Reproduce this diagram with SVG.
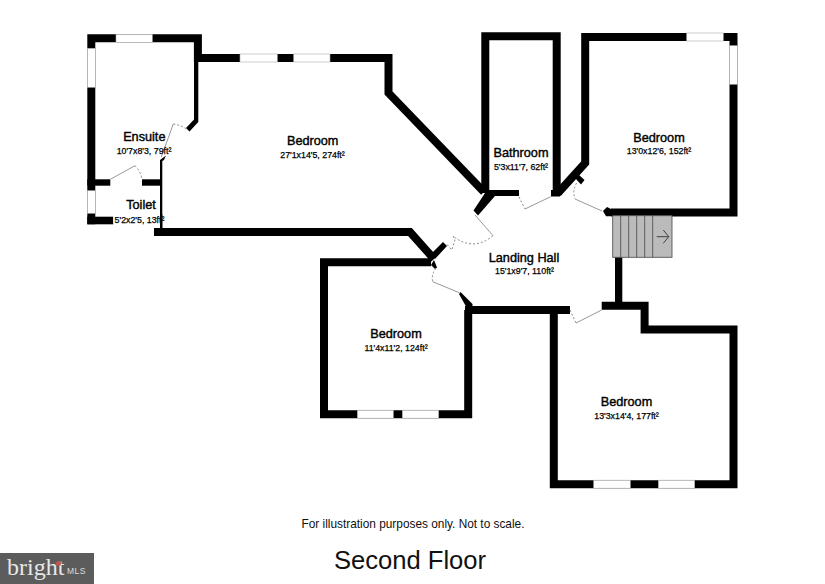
<svg xmlns="http://www.w3.org/2000/svg" width="825" height="584" viewBox="0 0 825 584">
<style>
.w{fill:none;stroke:#000;stroke-width:8;stroke-linejoin:miter}
.b{fill:#000}
.win{fill:#fff;stroke:#aaa;stroke-width:.6}
.door{fill:none;stroke:#999;stroke-width:1}
.arc{fill:none;stroke:#888;stroke-width:1;stroke-dasharray:2 2}
.n{font-family:"Liberation Sans",Arial,sans-serif;font-size:12.7px;text-anchor:middle;fill:#000;stroke:#000;stroke-width:.4}
.d{font-family:"Liberation Sans",Arial,sans-serif;font-size:8.8px;text-anchor:middle;fill:#000;stroke:#000;stroke-width:.25}
</style>
<rect width="825" height="584" fill="#fff"/>
<g id="walls">
<path class="w" d="M91.300 224.300V38.300H197.900V58H388.500V93L484 192"/>
<path class="b" d="M194 60H198.300V122L189.500 131.500L186 128L194 119.500Z"/>
<rect class="b" x="87.300" y="179.300" width="23" height="6.400"/>
<rect class="b" x="142" y="179.300" width="19" height="6.400"/>
<rect class="b" x="87.300" y="216.700" width="26" height="7.600"/>
<path class="b" d="M160 160L166 155.500L164 160L162.300 161V228H160Z"/>
<path class="w" d="M154 232H410L434 259"/>
<path class="b" d="M431 254L443 242L447 246L435 259Z"/>
<path class="w" d="M485.300 193V36.300H556.700V196"/>
<rect class="b" x="485" y="190" width="34" height="6"/>
<path class="b" d="M487 190L495 196L478 215.500L473.500 210.500Z"/>
<rect class="b" x="551" y="190" width="9" height="6.500"/>
<path class="w" d="M611 212.600H733.500V37H585.200V163L558 193"/>
<path class="b" d="M575 178L578.500 174.500L584.500 180L581 184.500Z"/>
<path class="b" d="M603 211L607 207L611 209V216.300H606Z"/>
<path class="w" d="M431 262.200H324V414.200H468.200V310"/>
<path class="b" d="M459 294L460.500 292L472.500 304V310H468Z"/>
<path class="b" d="M431 265L434 260L437 267.500L435 269Z"/>
<path class="w" d="M465 310H570"/>
<path class="w" d="M553.800 306V484.200H733.500V329.500H644.600V305.800H601.700"/>
<rect class="b" x="615" y="257" width="7.300" height="46"/>
</g>
<g id="windows">
<rect class="win" x="116" y="34.300" width="36.300" height="8"/>
<rect class="win" x="87.300" y="48.300" width="8" height="39"/>
<rect class="win" x="87.300" y="190.700" width="8" height="22.600"/>
<rect class="win" x="240" y="54" width="37.300" height="8"/>
<rect class="win" x="293.700" y="54" width="36.300" height="8"/>
<rect class="win" x="686.700" y="33" width="36.600" height="8"/>
<rect class="win" x="729.500" y="45.700" width="8" height="38.600"/>
<rect class="win" x="357.300" y="410.200" width="36" height="8"/>
<rect class="win" x="402.300" y="410.200" width="36.400" height="8"/>
<rect class="win" x="593.700" y="480.200" width="36.600" height="8"/>
<rect class="win" x="658.300" y="480.200" width="36.400" height="8"/>
<rect x="113.300" y="214" width="47" height="11" rx="3" fill="#fff"/>
<rect class="b" x="160" y="214" width="2.300" height="14"/>
</g>
<g id="doors">
<path class="door" d="M110.300 179.300L135 165.700"/><path class="arc" d="M135 165.700Q140 170 142 179"/>
<path class="door" d="M161.300 157L173.300 124"/><path class="arc" d="M173.300 124Q181 125 188 130"/>
<path class="door" d="M475 215L493 235.700"/><path class="arc" d="M493 235.700Q473 252 453 236L455 240L451.700 250L446.700 244"/>
<path class="door" d="M525 209L550.700 196.700"/><path class="arc" d="M519 197L525 209"/>
<path class="door" d="M575 199L602 211"/><path class="arc" d="M576.700 183Q572 190 575 199"/>
<path class="door" d="M432.700 281.700L459.300 292.700"/><path class="arc" d="M436 268Q431 275 432.700 281.700"/>
<path class="door" d="M576 323L601.700 310"/><path class="arc" d="M570 310L576 323"/>
</g>
<g id="stairs" fill="none" stroke="#555" stroke-width=".9">
<rect x="612.700" y="215.700" width="59.300" height="41.600" fill="#bbb"/>
<path d="M620.700 215.700V257.300M628.700 215.700V257.300M636.700 215.700V257.300M644.700 215.700V257.300M652.700 215.700V257.300"/>
<path stroke="#333" d="M656.700 236.700H668.700M663.300 230L668.700 236.700L663.300 243.300"/>
</g>
<g id="labels">
<text class="n" x="144.300" y="141">Ensuite</text><text class="d" x="144" y="153.500">10'7x8'3, 79ft²</text>
<text class="n" x="141" y="209">Toilet</text><text class="d" x="139.500" y="222.500">5'2x2'5, 13ft²</text>
<text class="n" x="312.700" y="145">Bedroom</text><text class="d" x="312.500" y="157.500">27'1x14'5, 274ft²</text>
<text class="n" x="521" y="157">Bathroom</text><text class="d" x="521" y="169.500">5'3x11'7, 62ft²</text>
<text class="n" x="659" y="141.500">Bedroom</text><text class="d" x="659" y="154">13'0x12'6, 152ft²</text>
<text class="n" x="524" y="262">Landing Hall</text><text class="d" x="524.500" y="274">15'1x9'7, 110ft²</text>
<text class="n" x="396" y="338">Bedroom</text><text class="d" x="396" y="350.500">11'4x11'2, 124ft²</text>
<text class="n" x="626.500" y="406">Bedroom</text><text class="d" x="626.500" y="419">13'3x14'4, 177ft²</text>
<text x="413" y="528" font-family="Liberation Sans,Arial,sans-serif" font-size="11.850" text-anchor="middle" fill="#111">For illustration purposes only. Not to scale.</text>
<text x="410" y="568.500" font-family="Liberation Sans,Arial,sans-serif" font-size="25.600" text-anchor="middle" fill="#111">Second Floor</text>
</g>
<g id="logo">
<rect x="0" y="553" width="94" height="31" fill="#5c5c5c"/>
<text x="7" y="575" font-family="Liberation Serif,serif" font-size="24" fill="#e8e8e8">bright</text>
<circle cx="58.500" cy="563.500" r="2.500" fill="#c0584a"/>
<text x="67" y="574" font-family="Liberation Sans,Arial,sans-serif" font-size="8.500" letter-spacing=".5" fill="#ddd">MLS</text>
</g>
</svg>
